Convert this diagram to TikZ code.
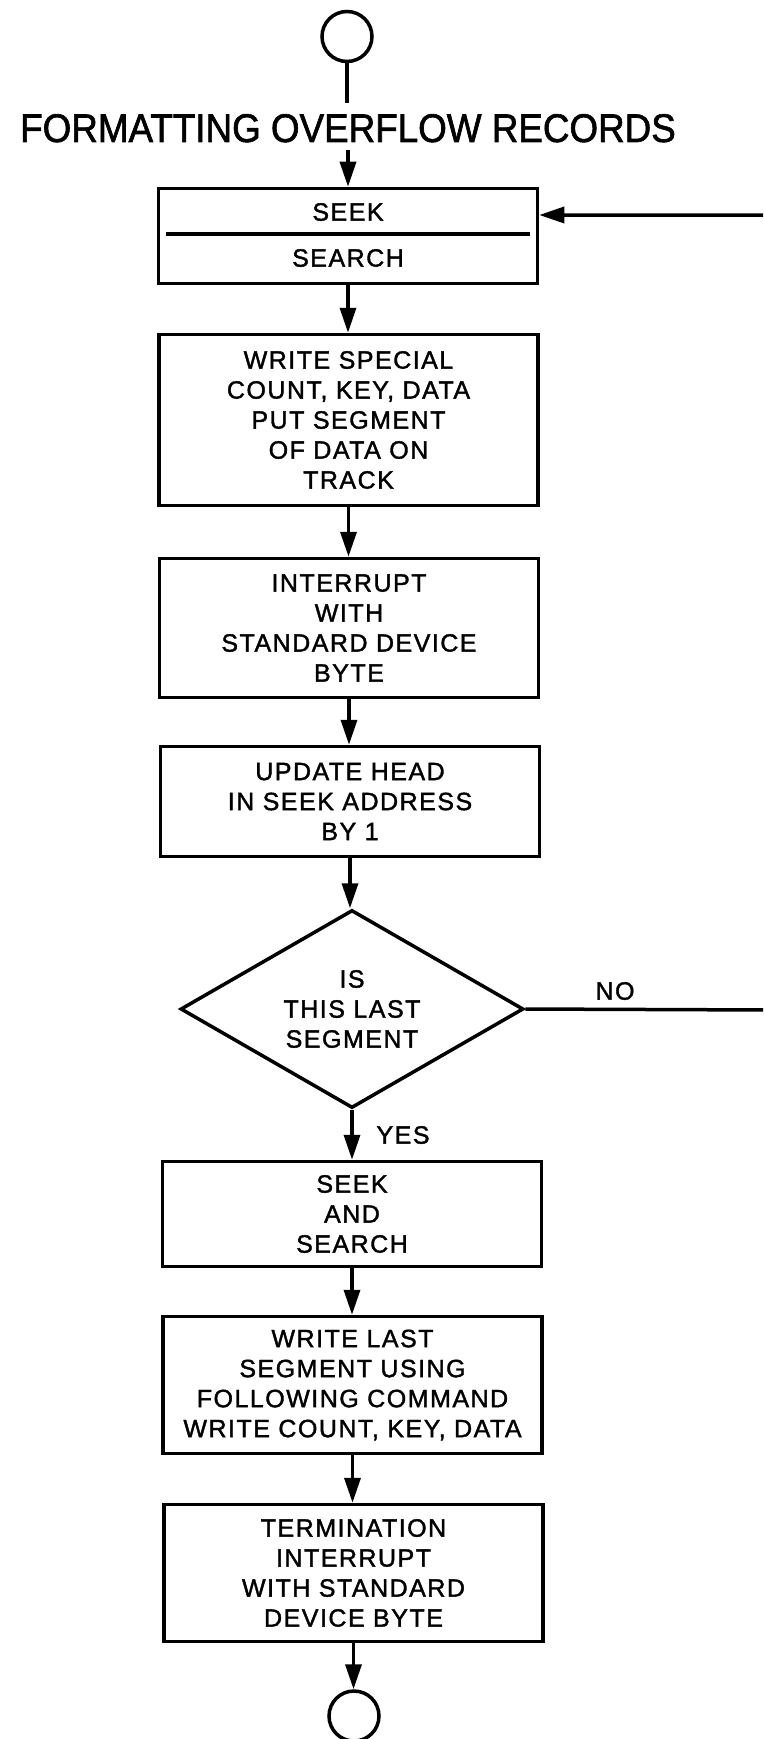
\documentclass[tikz,border=0pt]{standalone}
\usepackage{fontspec}
\setmainfont{Liberation Sans}[LetterSpace=6,FakeBold=1.5]
\newfontfamily\titlefont{Liberation Sans}[FakeStretch=0.92,FakeBold=1.5]
\usetikzlibrary{shapes.geometric,arrows.meta}
\begin{document}
\begin{tikzpicture}[x=1pt,y=-1pt,
  line width=3.5pt,
  txt/.style={font=\fontsize{25}{30}\selectfont},
  proc/.style={draw, rectangle, minimum width=379pt, align=center, inner sep=0pt, txt},
  decision/.style={draw, diamond, aspect=1.72, align=center, inner sep=0pt, txt},
  term/.style={draw, circle, minimum size=50pt, inner sep=0pt},
  flow/.style={-{Triangle[length=25pt,width=16pt]}},
  lbl/.style={inner sep=0pt, txt}]
\useasboundingbox (0,0) rectangle (763,1739);
\clip (0,0) rectangle (763,1739);
\fill[white] (0,0) rectangle (763,1739);

% nodes
\node[term] (start) at (347,36.5) {};
\coordinate (startend) at (347,103);
\node[font=\titlefont\fontsize{40}{48}\selectfont, anchor=base, inner sep=0pt] (title) at (348,142) {FORMATTING OVERFLOW RECORDS};
\coordinate (tin) at (348,150);

\node[proc, minimum height=95pt] (b1) at (348,236) {};
\node[lbl] (seek) at (348,212) {SEEK};
\node[lbl] (search) at (348,258) {SEARCH};
\draw (166,234) -- (530,234);

\node[proc, minimum height=171pt] (b2) at (348.5,420) {WRITE SPECIAL\\COUNT, KEY, DATA\\PUT SEGMENT\\OF DATA ON\\TRACK};
\node[proc, minimum height=139pt] (b3) at (349,628) {INTERRUPT\\WITH\\STANDARD DEVICE\\BYTE};
\node[proc, minimum height=110pt] (b4) at (350,801.5) {UPDATE HEAD\\IN SEEK ADDRESS\\BY 1};
\node[decision, minimum width=343pt, minimum height=198pt] (dec) at (352,1009) {IS\\THIS LAST\\SEGMENT};
\node[proc, minimum height=105pt] (b5) at (352,1214) {SEEK\\AND\\SEARCH};
\node[proc, minimum height=137pt] (b6) at (352.5,1385) {WRITE LAST\\SEGMENT USING\\FOLLOWING COMMAND\\WRITE COUNT, KEY, DATA};
\node[proc, minimum height=137pt] (b7) at (353.5,1573) {TERMINATION\\INTERRUPT\\WITH STANDARD\\DEVICE BYTE};
\node[term] (stop) at (354,1716) {};

\node[lbl] (yes) at (403,1135) {YES};
\node[lbl] (no) at (615,991) {NO};
\coordinate (nocorner) at (772,1010);
\coordinate (backcorner) at (772,215);

% connectors
\draw (start) -- (startend);
\draw[flow] (tin) -- (b1);
\draw[flow] (b1.south) -- (b1.south |- b2.north);
\draw[flow] (b2.south) -- (b2.south |- b3.north);
\draw[flow] (b3.south) -- (b3.south |- b4.north);
\draw[flow] (b4.south) -- (b4.south |- dec.north);
\draw[flow] (dec.south) -- (dec.south |- b5.north);
\draw[flow] (b5.south) -- (b5.south |- b6.north);
\draw[flow] (b6.south) -- (b6.south |- b7.north);
\draw[flow] (b7.south) -- (b7.south |- stop.north);
\draw[flow] (dec.east) -- (nocorner) -- (backcorner) -- (backcorner -| b1.east);
\end{tikzpicture}
\end{document}
